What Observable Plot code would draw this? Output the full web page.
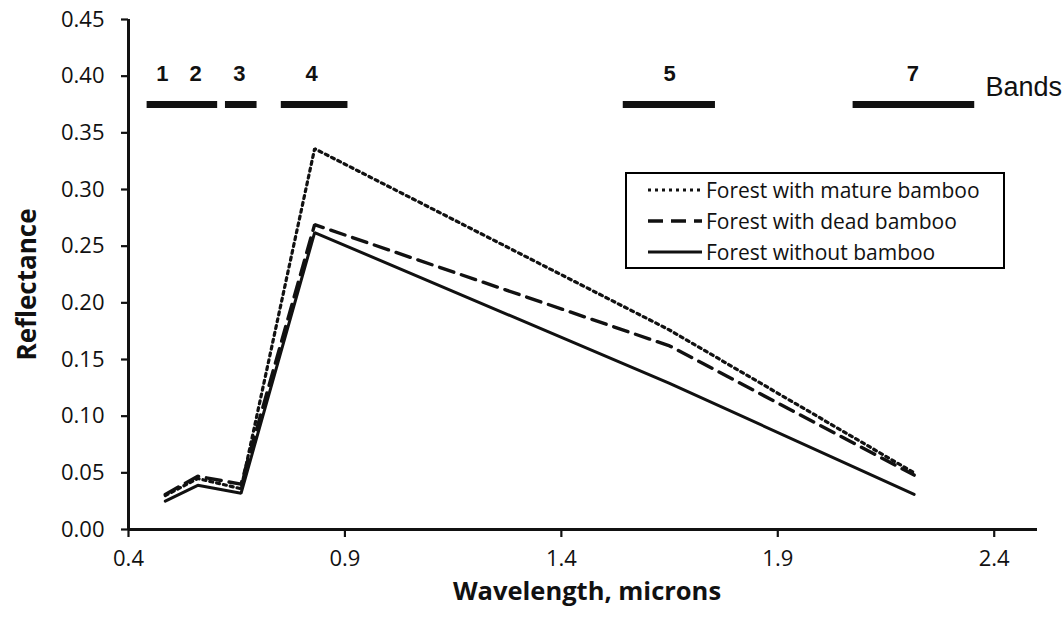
<!DOCTYPE html>
<html>
<head>
<meta charset="utf-8">
<script src="https://cdn.jsdelivr.net/npm/d3@7"></script>
<script src="https://cdn.jsdelivr.net/npm/@observablehq/plot@0.6"></script>
<style>
  html, body { margin: 0; padding: 0; background: #fff; }
  #wrap { position: relative; width: 1064px; height: 617px; }
  #legend {
    position: absolute; left: 625px; top: 172px; width: 380px; height: 97px;
    box-sizing: border-box; border: 2px solid #000; background: #fff;
    font-family: "Open Sans", sans-serif; font-size: 21px; color: #111;
  }
  .row { position: absolute; left: 0; height: 30px; display: flex; align-items: center; white-space: nowrap; }
  .row svg { margin-left: 21px; margin-right: 4px; }
</style>
</head>
<body>
<div id="wrap"></div>
<script>
// Data
const wavelengths = [0.485, 0.56, 0.66, 0.83, 1.65, 2.215];
const matureBamboo = [0.030, 0.045, 0.036, 0.336, 0.176, 0.050];
const deadBamboo = [0.031, 0.047, 0.040, 0.269, 0.162, 0.048];
const withoutBamboo = [0.025, 0.039, 0.032, 0.262, 0.129, 0.031];
const seriesNames = ["Forest with mature bamboo", "Forest with dead bamboo", "Forest without bamboo"];

const bandStart = [0.443, 0.624, 0.753, 1.543, 2.074];
const bandEnd = [0.606, 0.697, 0.907, 1.756, 2.355];
const bandLabels = ["1", "2", "3", "4", "5", "7"];
const bandLabelX = [0.478, 0.555, 0.656, 0.823, 1.65, 2.212];
const bandLevel = 0.375;
const bandLabelLevel = 0.402;

const xTicks = [0.4, 0.9, 1.4, 1.9, 2.4];
const yTicks = [0, 0.05, 0.10, 0.15, 0.20, 0.25, 0.30, 0.35, 0.40, 0.45];

const toRows = vals => wavelengths.map((w, i) => ({w, r: vals[i]}));
const bands = bandStart.map((s, i) => ({s, e: bandEnd[i]}));
const bandText = bandLabels.map((t, i) => ({t, x: bandLabelX[i]}));

const styles = [
  {dash: "3,4", width: 3.2},
  {dash: "15,8", width: 3.4},
  {dash: null, width: 3}
];
const allSeries = [matureBamboo, deadBamboo, withoutBamboo];

const chart = Plot.plot({
  width: 1064,
  height: 617,
  marginLeft: 128,
  marginRight: 27,
  marginTop: 19,
  marginBottom: 88,
  style: {fontFamily: "'Open Sans', sans-serif", fontSize: "22px", color: "#111", background: "#fff"},
  x: {domain: [0.4, 2.5]},
  y: {domain: [0, 0.45]},
  marks: [
    Plot.axisX({ticks: xTicks, tickFormat: d => d.toFixed(1), tickSize: 8, tickPadding: 13, strokeWidth: 2.2, label: null, fontSize: 22}),
    Plot.axisY({ticks: yTicks, tickFormat: d => d.toFixed(2), tickSize: 7, tickPadding: 17, strokeWidth: 2.2, label: null, fontSize: 22}),
    Plot.ruleX([0.4], {strokeWidth: 3, stroke: "#111"}),
    Plot.ruleY([0], {strokeWidth: 3, stroke: "#111"}),
    ...allSeries.map((vals, i) => Plot.line(toRows(vals), {
      x: "w", y: "r", stroke: "#111", strokeWidth: styles[i].width,
      strokeDasharray: styles[i].dash, strokeLinejoin: "miter"
    })),
    Plot.ruleY(bands, {x1: "s", x2: "e", y: () => bandLevel, stroke: "#111", strokeWidth: 7}),
    Plot.text(bandText, {x: "x", y: () => bandLabelLevel, text: "t", fontFamily: "'Liberation Sans', Arial, sans-serif", fontWeight: "bold", fontSize: 22, fill: "#111"}),
    Plot.text(["Bands"], {frameAnchor: "top-right", textAnchor: "start", dx: -52, dy: 57, fontFamily: "'Liberation Sans', Arial, sans-serif", fontSize: 27, fill: "#111"}),
    Plot.text(["Reflectance"], {frameAnchor: "left", textAnchor: "middle", dx: -101, dy: 10, rotate: -90, fontWeight: "bold", fontSize: 26, fill: "#111"}),
    Plot.text(["Wavelength, microns"], {frameAnchor: "bottom", textAnchor: "middle", dx: 4, dy: 70, fontWeight: "bold", fontSize: 25.5, fill: "#111"})
  ]
});

const wrap = document.getElementById("wrap");
wrap.appendChild(chart);

const legend = document.createElement("div");
legend.id = "legend";
seriesNames.forEach((name, i) => {
  const row = document.createElement("div");
  row.className = "row";
  row.style.top = (1 + i * 30.8) + "px";
  const s = styles[i];
  row.innerHTML = `<svg width="54" height="10"><line x1="0" y1="5" x2="54" y2="5" stroke="#111" stroke-width="${s.width}" ${s.dash ? `stroke-dasharray="${s.dash}"` : ""}/></svg><span>${name}</span>`;
  legend.appendChild(row);
});
wrap.appendChild(legend);
</script>
</body>
</html>
